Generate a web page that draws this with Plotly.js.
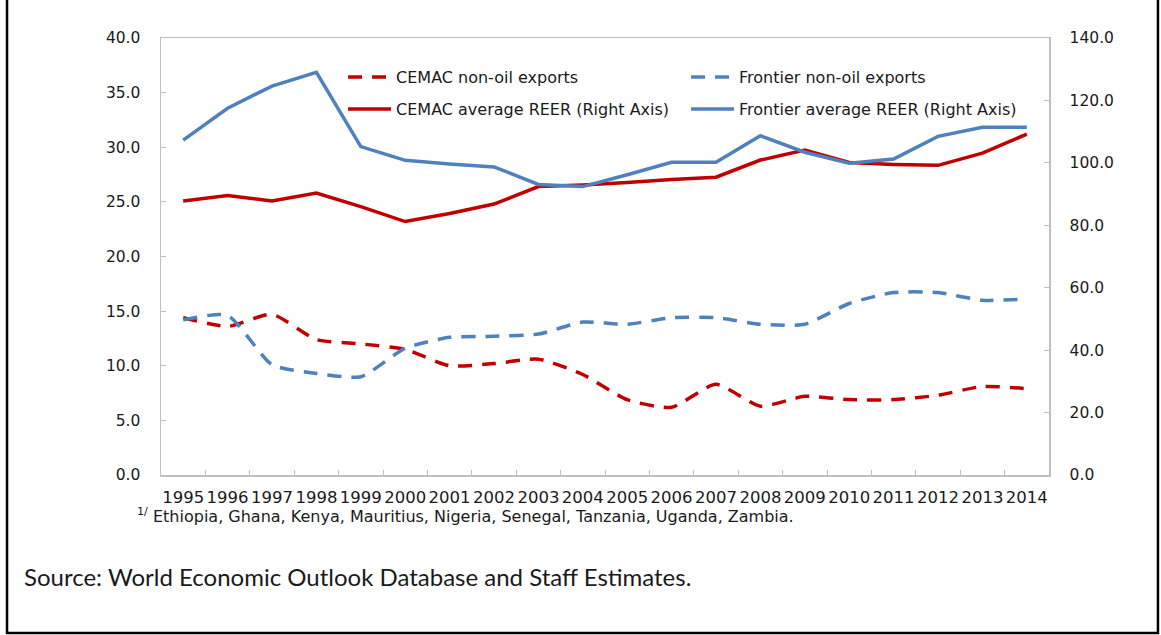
<!DOCTYPE html>
<html>
<head>
<meta charset="utf-8">
<script src="https://cdn.plot.ly/plotly-3.0.1.min.js"></script>
<style>
  html, body { margin: 0; padding: 0; background: #ffffff; }
  #chart { width: 1161px; height: 635px; }
</style>
</head>
<body>
<div id="chart"></div>
<script>
// ---- data ----
const years = ["1995","1996","1997","1998","1999","2000","2001","2002","2003","2004",
               "2005","2006","2007","2008","2009","2010","2011","2012","2013","2014"];

const cemacNonOil = [14.4, 13.6, 14.7, 12.4, 12.0, 11.5, 10.0, 10.2, 10.6, 9.2,
                     6.9, 6.2, 8.3, 6.3, 7.2, 6.9, 6.9, 7.3, 8.1, 7.9];
const frontierNonOil = [14.2, 14.6, 10.1, 9.3, 9.0, 11.6, 12.6, 12.7, 12.9, 14.0,
                        13.8, 14.4, 14.4, 13.8, 13.8, 15.7, 16.7, 16.7, 16.0, 16.1];
const cemacReer = [87.8, 89.5, 87.8, 90.3, 86.0, 81.2, 83.8, 86.8, 92.4, 92.9,
                   93.7, 94.7, 95.4, 100.9, 104.1, 100.1, 99.5, 99.2, 103.1, 109.2];
const frontierReer = [107.3, 117.5, 124.6, 129.0, 105.2, 100.8, 99.6, 98.7, 93.1, 92.4,
                      96.2, 100.2, 100.2, 108.7, 103.4, 99.9, 101.2, 108.5, 111.4, 111.4];

const seriesNames = ["CEMAC non-oil exports", "Frontier non-oil exports",
                     "CEMAC average REER (Right Axis)", "Frontier average REER (Right Axis)"];
const leftTicks = [0, 5, 10, 15, 20, 25, 30, 35, 40];
const rightTicks = [0, 20, 40, 60, 80, 100, 120, 140];
const footnote = "<sup>1/</sup> Ethiopia, Ghana, Kenya, Mauritius, Nigeria, Senegal, Tanzania, Uganda, Zambia.";
const sourceText = "Source: World Economic Outlook Database and Staff Estimates.";

// ---- styles ----
const RED = "#C00000";
const BLUE = "#4F81BD";
const GRID = "#BFBFBF";
const TXT = "#1a1a1a";
const FONT = "DejaVu Sans, Verdana, sans-serif";

const traces = [
  { x: years, y: cemacNonOil, name: seriesNames[0], type: "scatter", mode: "lines",
    line: { color: RED, width: 3.5, dash: "14px,10px", shape: "spline", smoothing: 0.6 },
    yaxis: "y", legend: "legend" },
  { x: years, y: frontierNonOil, name: seriesNames[1], type: "scatter", mode: "lines",
    line: { color: BLUE, width: 3.5, dash: "14px,10px", shape: "spline", smoothing: 0.6 },
    yaxis: "y", legend: "legend" },
  { x: years, y: cemacReer, name: seriesNames[2], type: "scatter", mode: "lines",
    line: { color: RED, width: 3.5 }, yaxis: "y2", legend: "legend2" },
  { x: years, y: frontierReer, name: seriesNames[3], type: "scatter", mode: "lines",
    line: { color: BLUE, width: 3.5 }, yaxis: "y2", legend: "legend2" }
];

const legendCommon = {
  orientation: "h", xanchor: "left", yanchor: "middle",
  font: { family: FONT, size: 16, color: TXT },
  bgcolor: "rgba(0,0,0,0)", borderwidth: 0,
  itemwidth: 43, entrywidth: 285, traceorder: "normal"
};

const layout = {
  width: 1161, height: 635,
  margin: { l: 161, r: 112, t: 38, b: 160, pad: 0 },
  paper_bgcolor: "#ffffff", plot_bgcolor: "#ffffff",
  font: { family: FONT, color: TXT },
  showlegend: true,
  legend: Object.assign({}, legendCommon, { x: 0.205, y: 0.9108 }),
  legend2: Object.assign({}, legendCommon, { x: 0.205, y: 0.8375 }),
  xaxis: {
    type: "category", tickmode: "array", tickvals: years, ticktext: years,
    range: [-0.5, years.length - 0.5], autorange: false,
    tickson: "boundaries", ticks: "inside", ticklen: 5, tickcolor: GRID, tickwidth: 1,
    showline: true, linecolor: GRID, linewidth: 1.5, mirror: true,
    showgrid: false, zeroline: false, tickangle: 0,
    tickfont: { family: FONT, size: 16.5, color: TXT }, ticklabelstandoff: 7
  },
  yaxis: {
    range: [0, 40], tickmode: "array", tickvals: leftTicks,
    ticktext: leftTicks.map(v => v.toFixed(1)),
    ticks: "inside", ticklen: 5, tickcolor: GRID, tickwidth: 1,
    showline: true, linecolor: GRID, linewidth: 1.5, mirror: true,
    showgrid: false, zeroline: false,
    tickfont: { family: FONT, size: 15.5, color: TXT }, ticklabelstandoff: 16
  },
  yaxis2: {
    range: [0, 140], tickmode: "array", tickvals: rightTicks,
    ticktext: rightTicks.map(v => v.toFixed(1)),
    overlaying: "y", side: "right",
    ticks: "inside", ticklen: 5, tickcolor: GRID, tickwidth: 1,
    showline: true, linecolor: GRID, linewidth: 1.5,
    showgrid: false, zeroline: false,
    tickfont: { family: FONT, size: 15.5, color: TXT }, ticklabelstandoff: 16
  },
  annotations: [
    { text: footnote, xref: "paper", yref: "paper", x: -0.0293, y: -0.0938,
      xanchor: "left", yanchor: "middle", showarrow: false,
      font: { family: FONT, size: 16, color: TXT } },
    { text: sourceText, xref: "paper", yref: "paper", x: -0.1565, y: -0.2334,
      xanchor: "left", yanchor: "middle", showarrow: false,
      font: { family: "Lato, Open Sans, sans-serif", size: 24, color: TXT } }
  ],
  shapes: [
    { type: "path", xref: "paper", yref: "paper",
      path: "M -0.1734 1.3 L -0.1734 -0.3616 L 1.1227 -0.3616 L 1.1227 1.3",
      line: { color: "#000000", width: 2.5 } }
  ]
};

Plotly.newPlot("chart", traces, layout, { displayModeBar: false, staticPlot: true });
</script>
</body>
</html>
